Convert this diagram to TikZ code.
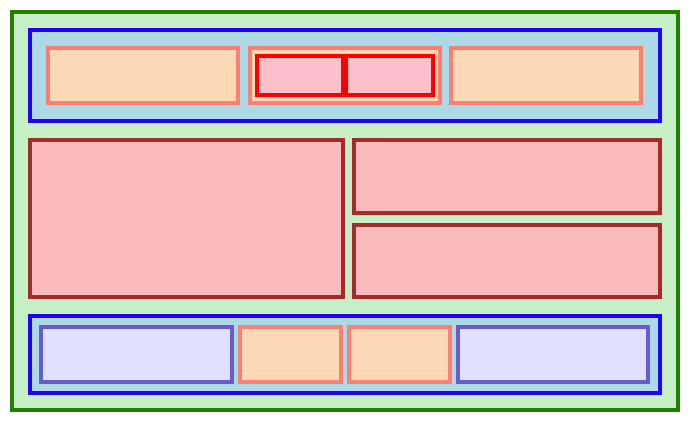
\documentclass[tikz,border=0pt]{standalone}
\usepackage{xcolor}
\definecolor{outerfill}{HTML}{C6EFC6}
\definecolor{outerline}{HTML}{228000}
\definecolor{barfill}{HTML}{ADD8E6}
\definecolor{barline}{HTML}{2200FF}
\definecolor{salmon}{HTML}{FA8072}
\definecolor{peachfill}{HTML}{FDD8B6}
\definecolor{cellfill}{HTML}{FBC0CA}
\definecolor{cellline}{HTML}{FF0000}
\definecolor{panelfill}{HTML}{F9BBBB}
\definecolor{panelline}{HTML}{A52A2A}
\definecolor{lavfill}{HTML}{E0E0FF}
\definecolor{lavline}{HTML}{6A5ACD}

\begin{document}
\begin{tikzpicture}[x=0.5pt,y=-0.5pt,
  frame/.style={line width=1.8pt},
  outer/.style={frame,draw=outerline,fill=outerfill},
  bar/.style={frame,draw=barline,fill=barfill},
  peach/.style={frame,draw=salmon,fill=peachfill},
  cell/.style={line width=2.3pt,draw=cellline,fill=cellfill},
  panel/.style={frame,draw=panelline,fill=panelfill},
  lav/.style={frame,draw=lavline,fill=lavfill}]
  \useasboundingbox (0,0) rectangle (690,422);
  % outer frame
  \draw[outer] (12,12) rectangle (678,410);
  % top bar
  \draw[bar] (30,30) rectangle (660,121);
  \draw[peach] (48,48) rectangle (238,103);
  \draw[peach] (250,48) rectangle (440,103);
  \draw[cell] (257,56) rectangle (343,95);
  \draw[cell] (346,56) rectangle (433,95);
  \draw[peach] (451,48) rectangle (641,103);
  % middle panels
  \draw[panel] (30,140) rectangle (343,297);
  \draw[panel] (354,140) rectangle (660,213);
  \draw[panel] (354,225) rectangle (660,297);
  % bottom bar
  \draw[bar] (30,316) rectangle (660,393);
  \draw[lav] (41,327) rectangle (232,382);
  \draw[peach] (240,327) rectangle (341,382);
  \draw[peach] (349,327) rectangle (450,382);
  \draw[lav] (458,327) rectangle (648,382);
\end{tikzpicture}
\end{document}
